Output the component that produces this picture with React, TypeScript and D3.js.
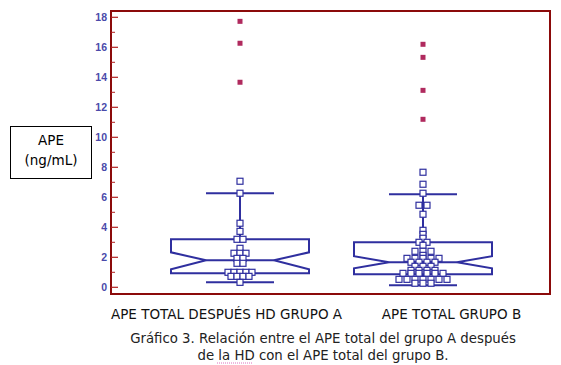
import * as d3 from "d3";
import React, { useRef, useEffect } from "react";

// group labels
const groups = ["APE TOTAL DESPUÉS HD GRUPO A", "APE TOTAL GRUPO B"];

// box statistics per group: [lowWhisker, q1, notchLow, median, notchHigh, q3, highWhisker]
const statsA = [0.33, 0.93, 1.2, 1.8, 2.33, 3.2, 6.27];
const statsB = [0.13, 0.87, 1.27, 1.67, 2.07, 3.0, 6.2];

// individual values (open squares)
const pointsA = [
  7.07, 6.27, 4.27, 3.73, 3.2, 3.2, 2.6, 2.27, 2.27, 2.27, 1.93, 1.93, 1.6, 1.6,
  1.0, 1.0, 1.0, 1.0, 1.0, 0.73, 0.73, 0.73, 0.73, 0.33,
];
const pointsB = [
  7.67, 6.87, 6.27, 5.47, 5.47, 4.87, 3.8, 3.53, 3.27, 3.0, 3.0, 2.8, 2.4, 2.4,
  2.4, 2.13, 1.93, 1.93, 1.93, 1.93, 1.93, 1.67, 1.67, 1.67, 1.67, 1.4, 1.4,
  1.4, 1.13, 1.13, 1.13, 1.13, 0.93, 0.93, 0.93, 0.93, 0.93, 0.93, 0.53, 0.53,
  0.53, 0.53, 0.53, 0.53, 0.53, 0.27, 0.27, 0.27,
];

// outside values (filled squares)
const outliersA = [17.73, 16.27, 13.67];
const outliersB = [16.2, 15.33, 13.13, 11.2];

const yTicks = [0, 2, 4, 6, 8, 10, 12, 14, 16, 18];
const yMinorTicks = [1, 3, 5, 7, 9, 11, 13, 15, 17];

const caption = [
  "Gráfico 3. Relación entre el APE total del grupo A después",
  "de la HD con el APE total del grupo B.",
];

function App() {
  const ref = useRef(null);

  useEffect(() => {
    const svg = d3.select(ref.current);
    svg.selectAll("*").remove();
    draw(svg);
  }, []);

  const draw = (svg) => {
    const font = "'DejaVu Sans', Verdana, sans-serif";
    const blue = "#2f2f9f";
    const frame = "#8b0a0a";

    const y = d3.scaleLinear().domain([0, 18]).range([287.3, 17.3]);
    const x = d3.scalePoint().domain(groups).range([240, 423]);

    // plot frame
    svg
      .append("rect")
      .attr("x", 111)
      .attr("y", 11)
      .attr("width", 439)
      .attr("height", 283)
      .attr("fill", "none")
      .attr("stroke", frame)
      .attr("stroke-width", 2);

    // y axis ticks (pointing inward)
    const axis = svg.append("g");
    axis
      .selectAll("line.major")
      .data(yTicks)
      .enter()
      .append("line")
      .attr("x1", 111)
      .attr("x2", 118)
      .attr("y1", (d) => y(d))
      .attr("y2", (d) => y(d))
      .attr("stroke", "#b02020")
      .attr("stroke-width", 1.2);
    axis
      .selectAll("line.minor")
      .data(yMinorTicks)
      .enter()
      .append("line")
      .attr("x1", 111)
      .attr("x2", 115)
      .attr("y1", (d) => y(d))
      .attr("y2", (d) => y(d))
      .attr("stroke", "#b02020")
      .attr("stroke-width", 1);
    axis
      .selectAll("text")
      .data(yTicks)
      .enter()
      .append("text")
      .attr("x", 107)
      .attr("y", (d) => y(d))
      .attr("dy", "0.35em")
      .attr("text-anchor", "end")
      .attr("font-family", "'Liberation Sans', Arial, sans-serif")
      .attr("font-size", 10.5)
      .attr("font-weight", 600)
      .attr("fill", "#4a4aaa")
      .text((d) => d);

    const boxes = [
      { g: groups[0], s: statsA, pts: pointsA, out: outliersA, sp: 6 },
      { g: groups[1], s: statsB, pts: pointsB, out: outliersB, sp: 8 },
    ];

    boxes.forEach((b) => {
      const cx = x(b.g);
      const [lo, q1, nl, med, nh, q3, hi] = b.s;
      const hw = 69, nw = 34, cw = 34;
      const g = svg.append("g").attr("stroke", blue).attr("fill", "none");

      // whiskers
      g.append("line").attr("x1", cx).attr("x2", cx).attr("y1", y(q3)).attr("y2", y(hi)).attr("stroke-width", 2);
      g.append("line").attr("x1", cx).attr("x2", cx).attr("y1", y(q1)).attr("y2", y(lo)).attr("stroke-width", 2);
      g.append("line").attr("x1", cx - cw).attr("x2", cx + cw).attr("y1", y(hi)).attr("y2", y(hi)).attr("stroke-width", 2);
      g.append("line").attr("x1", cx - cw).attr("x2", cx + cw).attr("y1", y(lo)).attr("y2", y(lo)).attr("stroke-width", 2);

      // notched box
      const poly = [
        [cx - hw, y(q3)],
        [cx + hw, y(q3)],
        [cx + hw, y(nh)],
        [cx + nw, y(med)],
        [cx + hw, y(nl)],
        [cx + hw, y(q1)],
        [cx - hw, y(q1)],
        [cx - hw, y(nl)],
        [cx - nw, y(med)],
        [cx - hw, y(nh)],
      ];
      g.append("path")
        .attr("d", d3.line()(poly) + "Z")
        .attr("stroke-width", 2)
        .attr("stroke-linejoin", "miter");
      g.append("line")
        .attr("x1", cx - nw)
        .attr("x2", cx + nw)
        .attr("y1", y(med))
        .attr("y2", y(med))
        .attr("stroke-width", 2);

      // spread equal values sideways
      const counts = d3.rollup(b.pts, (v) => v.length, (d) => d);
      const seen = new Map();
      const placed = b.pts.map((v) => {
        const n = counts.get(v);
        const i = seen.get(v) || 0;
        seen.set(v, i + 1);
        return { v, dx: (i - (n - 1) / 2) * b.sp };
      });

      svg
        .append("g")
        .selectAll("rect")
        .data(placed)
        .enter()
        .append("rect")
        .attr("x", (d) => cx + d.dx - 3)
        .attr("y", (d) => y(d.v) - 3)
        .attr("width", 6)
        .attr("height", 6)
        .attr("fill", "white")
        .attr("stroke", blue)
        .attr("stroke-width", 1.2);

      svg
        .append("g")
        .selectAll("rect")
        .data(b.out)
        .enter()
        .append("rect")
        .attr("x", cx - 2.5)
        .attr("y", (d) => y(d) - 2.5)
        .attr("width", 5)
        .attr("height", 5)
        .attr("fill", "#b02a5e");
    });

    // y label box
    svg
      .append("rect")
      .attr("x", 10.5)
      .attr("y", 126.5)
      .attr("width", 81)
      .attr("height", 52)
      .attr("fill", "none")
      .attr("stroke", "black");
    svg
      .append("text")
      .attr("x", 51)
      .attr("y", 145)
      .attr("text-anchor", "middle")
      .attr("font-family", font)
      .attr("font-size", 13.5)
      .text("APE");
    svg
      .append("text")
      .attr("x", 51)
      .attr("y", 165)
      .attr("text-anchor", "middle")
      .attr("font-family", font)
      .attr("font-size", 13.5)
      .text("(ng/mL)");

    // group labels
    const labelX = [226.5, 451.5];
    svg
      .selectAll("text.grp")
      .data(groups)
      .enter()
      .append("text")
      .attr("x", (d, i) => labelX[i])
      .attr("y", 319)
      .attr("text-anchor", "middle")
      .attr("font-family", font)
      .attr("font-size", 13.5)
      .attr("fill", "#111")
      .text((d) => d);

    // caption
    svg
      .selectAll("text.cap")
      .data(caption)
      .enter()
      .append("text")
      .attr("x", 323)
      .attr("y", (d, i) => 343 + i * 17)
      .attr("text-anchor", "middle")
      .attr("font-family", font)
      .attr("font-size", 13.3)
      .attr("fill", "#222")
      .text((d) => d);

    // spellcheck-like dotted underline under "la HD"
    svg
      .append("line")
      .attr("x1", 217)
      .attr("x2", 253)
      .attr("y1", 363)
      .attr("y2", 363)
      .attr("stroke", "#e070c0")
      .attr("stroke-dasharray", "1,1");
  };

  return (
    <div className="Chart">
      <svg
        ref={ref}
        width={561}
        height={365}
        style={{ position: "absolute", left: 0, top: 0, background: "white" }}
      ></svg>
    </div>
  );
}

export default App;
